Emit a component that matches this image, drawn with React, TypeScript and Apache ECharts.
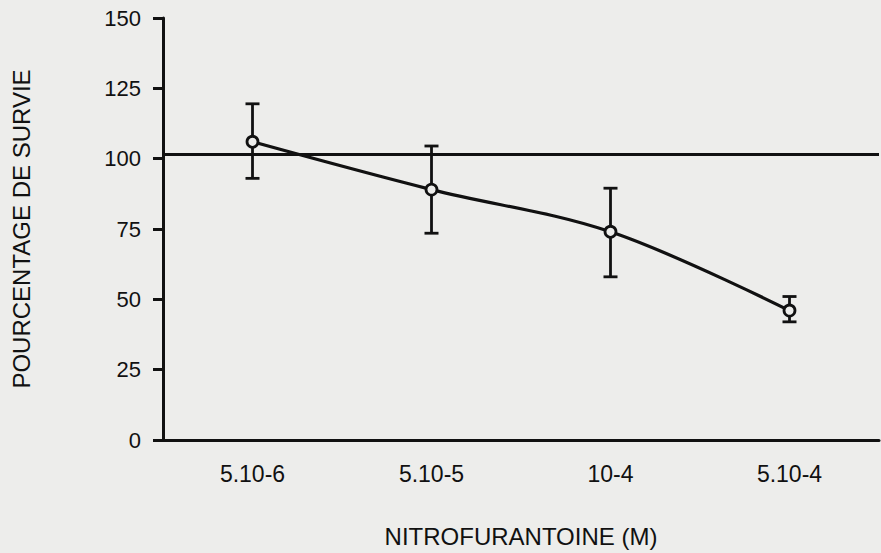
import React, { useEffect, useRef } from "react";
import * as echarts from "echarts";

const categories = ["5.10-6", "5.10-5", "10-4", "5.10-4"];
const survivalMean = [106, 89, 74, 46];
const errorUpper = [119.5, 104.5, 89.5, 51];
const errorLower = [93, 73.5, 58, 42];
const referenceLevel = [101.5];
const yTicks = [0, 25, 50, 75, 100, 125, 150];

const INK = "#111111";
const PAPER = "#ededeb";
const FONT = "'Liberation Sans', Arial, Helvetica, sans-serif";

export default function App() {
  const ref = useRef<HTMLDivElement>(null);
  useEffect(() => {
    if (!ref.current) return;
    const chart = echarts.init(ref.current, undefined, { renderer: "svg" });
    const errData = categories.map((c, i) => [i, errorLower[i], errorUpper[i]]);
    chart.setOption({
      animation: false,
      backgroundColor: PAPER,
      textStyle: { fontFamily: FONT, color: INK },
      grid: { left: 163, right: 2, top: 18, bottom: 111.5, containLabel: false },
      xAxis: {
        type: "category",
        data: categories,
        boundaryGap: true,
        name: "NITROFURANTOINE (M)",
        nameLocation: "middle",
        nameGap: 84,
        nameTextStyle: { fontFamily: FONT, fontSize: 24, color: INK },
        axisLine: { lineStyle: { color: INK, width: 3 } },
        axisTick: { alignWithLabel: true, length: 10, lineStyle: { color: INK, width: 3 } },
        axisLabel: { margin: 22, fontFamily: FONT, fontSize: 23, color: INK },
        splitLine: { show: false },
      },
      yAxis: {
        type: "value",
        min: yTicks[0],
        max: yTicks[yTicks.length - 1],
        interval: 25,
        name: "POURCENTAGE DE SURVIE",
        nameLocation: "middle",
        nameGap: 130,
        nameTextStyle: { fontFamily: FONT, fontSize: 24, color: INK },
        axisLine: { show: true, lineStyle: { color: INK, width: 3 } },
        axisTick: { show: true, length: 10, lineStyle: { color: INK, width: 3 } },
        axisLabel: { margin: 22, fontFamily: FONT, fontSize: 22, color: INK },
        splitLine: { show: false },
      },
      series: [
        {
          type: "custom",
          data: errData,
          z: 3,
          renderItem: (params: any, api: any) => {
            const x = api.value(0);
            const lo = api.coord([x, api.value(1)]);
            const hi = api.coord([x, api.value(2)]);
            const cap = 7;
            const style = { stroke: INK, lineWidth: 2.8 };
            return {
              type: "group",
              children: [
                { type: "line", shape: { x1: lo[0], y1: lo[1], x2: hi[0], y2: hi[1] }, style },
                { type: "line", shape: { x1: hi[0] - cap, y1: hi[1], x2: hi[0] + cap, y2: hi[1] }, style },
                { type: "line", shape: { x1: lo[0] - cap, y1: lo[1], x2: lo[0] + cap, y2: lo[1] }, style },
              ],
            };
          },
        },
        {
          type: "line",
          data: survivalMean,
          smooth: 0.35,
          z: 4,
          symbol: "circle",
          symbolSize: 11,
          itemStyle: { color: PAPER, borderColor: INK, borderWidth: 2.8 },
          lineStyle: { color: INK, width: 3.2 },
          markLine: {
            silent: true,
            symbol: ["none", "none"],
            label: { show: false },
            lineStyle: { color: INK, width: 3, type: "solid" },
            data: referenceLevel.map((v) => ({ yAxis: v })),
          },
        },
      ],
    });
    return () => chart.dispose();
  }, []);
  return <div ref={ref} style={{ width: 881, height: 553, position: "fixed", left: 0, top: 0 }} />;
}
